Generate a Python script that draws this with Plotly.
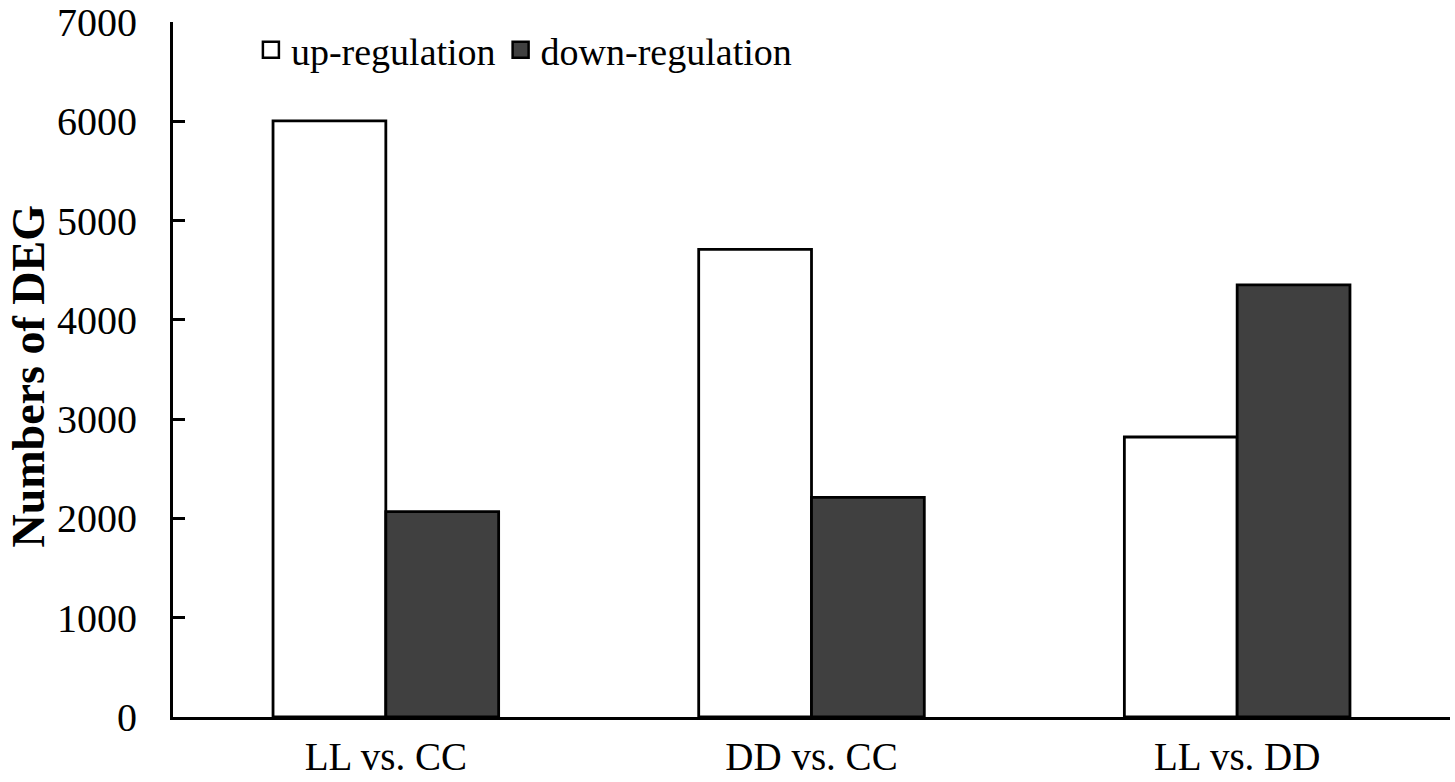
import plotly.graph_objects as go

categories = ["LL vs. CC", "DD vs. CC", "LL vs. DD"]
up_regulation = [6005, 4710, 2820]
down_regulation = [2068, 2212, 4352]
series_names = ["up-regulation", "down-regulation"]
y_ticks = [0, 1000, 2000, 3000, 4000, 5000, 6000, 7000]
y_title = "Numbers of DEG"

FONT = "Liberation Serif, Times New Roman, serif"
COLORS = ["white", "#404040"]

fig = go.Figure()
for name, vals, col in zip(series_names, [up_regulation, down_regulation], COLORS):
    fig.add_trace(go.Bar(
        x=categories, y=vals, name=name, showlegend=False, legendgroup=name,
        marker=dict(color=col, line=dict(color="black", width=2.8)),
    ))
# legend entries with larger square symbols
for name, col in zip(series_names, COLORS):
    fig.add_trace(go.Scatter(
        x=[None], y=[None], mode="markers", name=name, legendgroup=name,
        marker=dict(symbol="square", size=20, color=col, line=dict(color="black", width=2.5)),
    ))

fig.update_layout(
    width=1455, height=782,
    margin=dict(l=173, r=5, t=22, b=65, autoexpand=False),
    paper_bgcolor="white", plot_bgcolor="white",
    barmode="group", bargap=0.47, bargroupgap=0,
    font=dict(family=FONT, size=38, color="black"),
    showlegend=True,
    legend=dict(
        orientation="h", x=0.061, y=1.005, xanchor="left", yanchor="top",
        bgcolor="rgba(0,0,0,0)", font=dict(family=FONT, size=38, color="black"),
        itemwidth=30, tracegroupgap=0,
    ),
    annotations=[dict(
        text="<b>" + y_title + "</b>", textangle=-90,
        xref="paper", yref="paper", x=-0.1135, y=0.49,
        xanchor="center", yanchor="middle", showarrow=False,
        font=dict(family=FONT, size=46, color="black"),
    )],
)
fig.update_xaxes(
    automargin=False,
    showline=True, linecolor="black", linewidth=3,
    ticks="", showgrid=False, zeroline=False,
    tickfont=dict(family=FONT, size=39, color="black"),
    ticklabelstandoff=3,
)
fig.update_yaxes(
    automargin=False,
    range=[0, 7000], tickvals=y_ticks,
    showline=True, linecolor="black", linewidth=3,
    ticks="inside", ticklen=12, tickwidth=3, tickcolor="black",
    showgrid=False, zeroline=False,
    tickfont=dict(family=FONT, size=40, color="black"),
    ticklabelstandoff=25, ticklabeloverflow="allow",
)

fig.write_html(
    "out.html",
    config={"displayModeBar": False},
    post_script="document.body.style.margin='0px';document.body.style.overflow='hidden';",
)
